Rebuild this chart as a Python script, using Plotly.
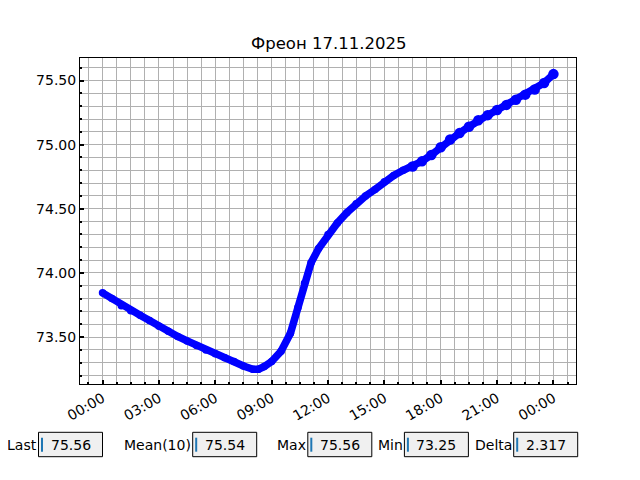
import plotly.graph_objects as go
from datetime import datetime, timedelta

# ---- data ----
hours = [0.0, 0.5, 1.0, 1.5, 2.0, 2.5, 3.0, 3.5, 4.0, 4.5, 5.0, 5.5, 6.0, 6.5,
         7.0, 7.5, 8.0, 8.3, 8.6, 9.0, 9.5, 10.0, 10.4, 10.75, 11.1, 11.5,
         12.0, 12.5, 13.0, 13.5, 14.0, 14.5, 15.0, 15.5, 16.0, 16.5, 17.0,
         17.5, 18.0, 18.5, 19.0, 19.5, 20.0, 20.5, 21.0, 21.5, 22.0, 22.5,
         23.0, 23.5, 24.0]
values = [73.845, 73.80, 73.745, 73.705, 73.67, 73.63, 73.585, 73.545, 73.505,
          73.47, 73.435, 73.40, 73.37, 73.34, 73.31, 73.275, 73.25, 73.25,
          73.27, 73.31, 73.39, 73.53, 73.73, 73.92, 74.08, 74.19, 74.30, 74.39,
          74.47, 74.54, 74.60, 74.65, 74.71, 74.76, 74.80, 74.83, 74.87, 74.92,
          74.98, 75.04, 75.09, 75.14, 75.19, 75.23, 75.27, 75.31, 75.35, 75.39,
          75.43, 75.48, 75.55]
start = datetime(2025, 11, 17, 0, 0)
times = [start + timedelta(hours=h) for h in hours]

title_text = "Фреон 17.11.2025"
stat_labels = ["Last", "Mean(10)", "Max", "Min", "Delta"]
stat_values = ["75.56", "75.54", "75.56", "73.25", "2.317"]

# ---- layout geometry (page pixels; the page body has an 8px margin) ----
OFF = 8
W, H = 640 - OFF, 480 - OFF
L, R, T, B = 80, 576, 58, 384          # plot area in page pixels
box_left = [38.5, 192.7, 307.8, 404.4, 513.7]
box_w = 64.0
box_top, box_bot = 432.3, 456.7

def px(x):
    return (x - L) / (R - L)

def py(y):
    return (B - y) / (B - T)

font = dict(family="DejaVu Sans", size=14, color="black")
grid = "#b0b0b0"

marker_sizes = [7.5 if h < 16.5 else 10.5 for h in hours]

fig = go.Figure()
fig.add_trace(go.Scatter(
    x=times, y=values, mode="lines+markers",
    line=dict(color="#0000ff", width=7.5),
    marker=dict(color="#0000ff", size=marker_sizes, opacity=1,
                line=dict(width=0)),
    opacity=1,
    showlegend=False, hoverinfo="skip"))

x0 = start - timedelta(hours=1.2)
x1 = start + timedelta(hours=25.2)
vmin, vmax = 73.25, 75.56
pad = (vmax - vmin) * 0.05

fig.update_xaxes(
    range=[x0, x1], type="date",
    tick0="2025-11-17 00:00", dtick=3 * 3600000, tickformat="%H:%M",
    tickangle=-30, tickfont=font,
    ticks="inside", ticklen=4, tickwidth=2, tickcolor="black",
    showgrid=True, gridcolor=grid, gridwidth=1,
    showline=True, linecolor="black", linewidth=1, mirror=True,
    zeroline=False,
    minor=dict(tick0="2025-11-17 00:00", dtick=2700000, showgrid=True,
               gridcolor=grid, gridwidth=1, ticks="inside", ticklen=2,
               tickcolor="black"),
)
fig.update_yaxes(
    range=[vmin - pad, vmax + pad],
    tick0=73.5, dtick=0.5, tickformat=".2f", tickfont=font,
    ticks="inside", ticklen=4, tickwidth=2, tickcolor="black",
    showgrid=True, gridcolor=grid, gridwidth=1,
    showline=True, linecolor="black", linewidth=1, mirror=True,
    zeroline=False,
    minor=dict(tick0=73.5, dtick=0.1, showgrid=True, gridcolor=grid,
               gridwidth=1, ticks="inside", ticklen=2, tickcolor="black"),
)

shapes = []
annotations = []
annotations.append(dict(text=title_text, x=px((L + R) / 2), y=py(43.5),
                        xref="paper", yref="paper", showarrow=False,
                        xanchor="center", yanchor="middle",
                        font=dict(family="DejaVu Sans", size=16.5, color="black")))
ymid = (box_top + box_bot) / 2
for lab, val, bl in zip(stat_labels, stat_values, box_left):
    shapes.append(dict(type="rect", xref="paper", yref="paper",
                       x0=px(bl), x1=px(bl + box_w), y0=py(box_bot), y1=py(box_top),
                       fillcolor="#f0f0f0", line=dict(color="black", width=1)))
    shapes.append(dict(type="line", xref="paper", yref="paper",
                       x0=px(bl + 3.5), x1=px(bl + 3.5), y0=py(451.7), y1=py(437.7),
                       line=dict(color="#1f77b4", width=2)))
    annotations.append(dict(text=lab, x=px(bl - 0.5), y=py(ymid), xref="paper",
                            yref="paper", showarrow=False, xanchor="right",
                            yanchor="middle", borderpad=0, font=font))
    annotations.append(dict(text=val, x=px(bl + 11), y=py(ymid), xref="paper",
                            yref="paper", showarrow=False, xanchor="left",
                            yanchor="middle", borderpad=0, font=font))

fig.update_layout(
    width=W, height=H,
    margin=dict(l=L - OFF, r=(W + OFF) - R, t=T - OFF, b=(H + OFF) - B, pad=0),
    paper_bgcolor="white", plot_bgcolor="white",
    shapes=shapes, annotations=annotations,
    font=font, showlegend=False,
)

fig.write_html("out.html")
